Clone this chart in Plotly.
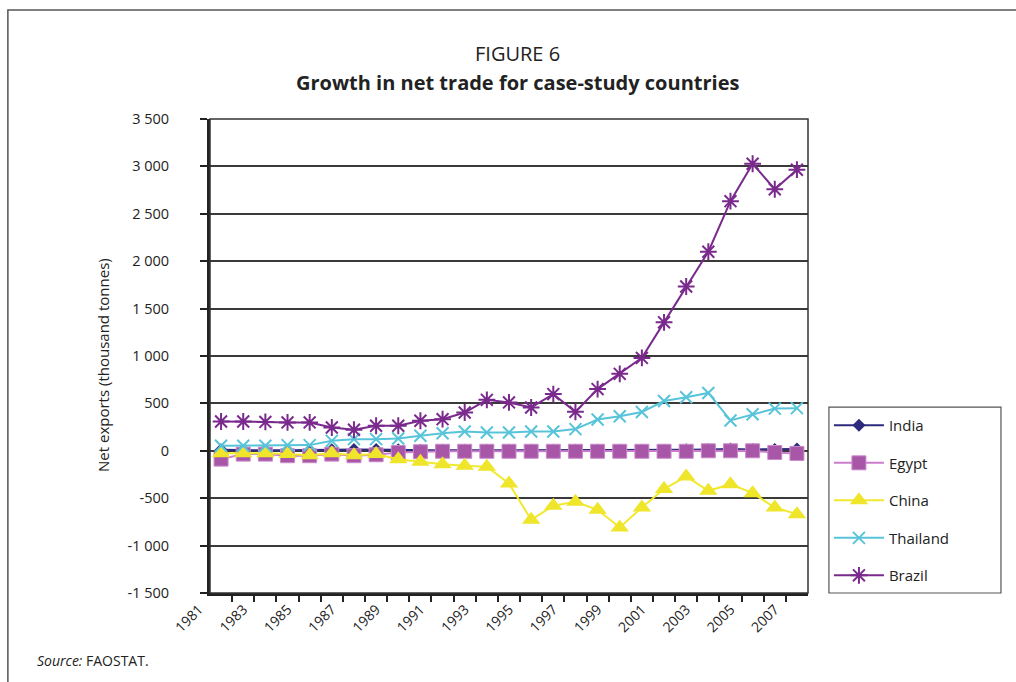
import plotly.graph_objects as go

# Net exports, thousand tonnes, one value per year
years = list(range(1981, 2008))
india = [10, 5, 5, 5, 5, 10, 15, 15, 10, 5, 5, 5, 5, 5, 5, 5, 5, 5, 5, 5, 5, 10, 15, 20, 15, 15, 20]
egypt = [-88, -35, -35, -52, -52, -35, -52, -42, -18, -10, -5, -5, -5, -5, -5, -5, -5,
         -5, -5, -5, -5, -5, 0, 0, 0, -18, -28]
china = [-25, -25, -25, -35, -46, -25, -46, -35, -88, -116, -141, -158, -169, -345, -728,
         -580, -538, -622, -809, -598, -404, -271, -422, -352, -447, -598, -668]
thailand = [53, 53, 53, 60, 60, 105, 123, 123, 130, 158, 186, 204, 193, 193, 204, 204, 229,
            330, 365, 410, 525, 565, 610, 320, 385, 445, 450]
brazil = [309, 309, 305, 299, 299, 246, 222, 264, 264, 317, 334, 404, 538, 510, 457, 598,
          411, 651, 812, 980, 1355, 1733, 2100, 2633, 3028, 2759, 2965]

y_ticks = [-1500, -1000, -500, 0, 500, 1000, 1500, 2000, 2500, 3000, 3500]
y_tick_text = ["-1 500", "-1 000", "-500", "0", "500", "1 000", "1 500", "2 000",
               "2 500", "3 000", "3 500"]
x_label_years = years[::2]
x_label_text = [str(y) for y in x_label_years]

FONT = "Open Sans"
y_min, y_max = -1500, 3500
x_min, x_max = years[0] - 0.5, years[-1] + 0.5
boundaries = [y + 0.5 for y in years[:-1]]

series = [
    ("India", india, dict(symbol="diamond", size=10, color="#2C2A7C",
                          line=dict(width=0)), "#2C2A7C"),
    ("Egypt", egypt, dict(symbol="square", size=14, color="#A857A8",
                          line=dict(width=1, color="#C98BC9")), "#CC7ECC"),
    ("China", china, dict(symbol="triangle-up", size=16, color="#EFE52A",
                          line=dict(width=0)), "#F1E92E"),
    ("Thailand", thailand, dict(symbol="x-thin", size=12, color="#58C4D9",
                                line=dict(width=2, color="#58C4D9")), "#58C4D9"),
    ("Brazil", brazil, dict(symbol="asterisk", size=14, color="#7A2A8C",
                            line=dict(width=2, color="#7A2A8C")), "#7A2A8C"),
]

fig = go.Figure()
for name, vals, marker, line_color in series:
    fig.add_trace(go.Scatter(
        x=years, y=vals, name=name, mode="lines+markers",
        line=dict(color=line_color, width=2), marker=marker,
        legendgroup=name,
    ))

zero_pos = (0 - y_min) / (y_max - y_min)

# legend box edges, in paper units
leg_x0, leg_x1, leg_y0, leg_y1 = 1.035, 1.3227, 0.0, 0.392

fig.update_layout(
    width=1016, height=682,
    margin=dict(l=210, r=208, t=119, b=89),
    paper_bgcolor="white", plot_bgcolor="white",
    font=dict(family=FONT, size=13, color="#222"),
    showlegend=True,
    legend=dict(
        x=leg_x0, y=leg_y1 - 0.004, xanchor="left", yanchor="top",
        borderwidth=0, bgcolor="rgba(0,0,0,0)",
        font=dict(family=FONT, size=15, color="#222"),
        traceorder="grouped", tracegroupgap=15, itemwidth=50,
    ),
    xaxis=dict(
        range=[x_min, x_max], tickmode="array", tickvals=x_label_years,
        ticktext=x_label_text, ticks="", tickangle=-45, ticklabelshift=-22,
        tickfont=dict(family=FONT, size=14, color="#222"),
        showgrid=False, zeroline=False,
        showline=True, linecolor="#222", linewidth=2.5,
        minor=dict(tickmode="array", tickvals=boundaries, ticks="outside",
                   ticklen=6, tickwidth=1.5, tickcolor="#222", showgrid=False),
    ),
    xaxis2=dict(
        overlaying="x", matches="x", anchor="free", position=zero_pos,
        side="bottom", showticklabels=False, showgrid=False, zeroline=False,
        showline=True, linecolor="#333", linewidth=1.5, layer="below traces",
        tickmode="array", tickvals=boundaries, ticks="outside", ticklen=6,
        tickwidth=1.5, tickcolor="#333",
    ),
    yaxis=dict(
        range=[y_min, y_max], tickmode="array", tickvals=y_ticks,
        ticktext=y_tick_text, ticks="outside", ticklen=7, tickwidth=1.5,
        tickcolor="#222", tickfont=dict(family=FONT, size=14.5, color="#222"),
        ticklabelstandoff=28,
        showgrid=True, gridcolor="#3a3a3a", gridwidth=1.5, zeroline=False,
        showline=True, linecolor="#222", linewidth=3,
    ),
    shapes=[
        # plot area border
        dict(type="rect", xref="paper", yref="paper", x0=0, x1=1, y0=0, y1=1,
             line=dict(color="#333", width=1.5), layer="above"),
        # legend box
        dict(type="rect", xref="paper", yref="paper", x0=leg_x0, x1=leg_x1,
             y0=leg_y0, y1=leg_y1, line=dict(color="#555", width=1.2)),
        # page frame around the figure
        dict(type="rect", xref="paper", yref="paper", x0=-0.338, x1=1.36,
             y0=-0.21, y1=1.23, line=dict(color="#555", width=1.5)),
    ],
    annotations=[
        dict(text="FIGURE 6", xref="paper", yref="paper", x=0.515, y=1.139,
             xanchor="center", yanchor="middle", showarrow=False,
             font=dict(family=FONT, size=20, color="#222")),
        dict(text="<b>Growth in net trade for case-study countries</b>",
             xref="paper", yref="paper", x=0.515, y=1.076,
             xanchor="center", yanchor="middle", showarrow=False,
             font=dict(family=FONT, size=20, color="#222")),
        dict(text="Net exports (thousand tonnes)", xref="paper", yref="paper",
             x=-0.179, y=0.481, textangle=-90, xanchor="center", yanchor="middle",
             showarrow=False, font=dict(family=FONT, size=15, color="#222")),
        dict(text="<i>Source:</i> FAOSTAT.", xref="paper", yref="paper",
             x=-0.293, y=-0.143, xanchor="left", yanchor="middle", showarrow=False,
             font=dict(family=FONT, size=14, color="#222")),
    ],
)

fig.write_html("out.html")
